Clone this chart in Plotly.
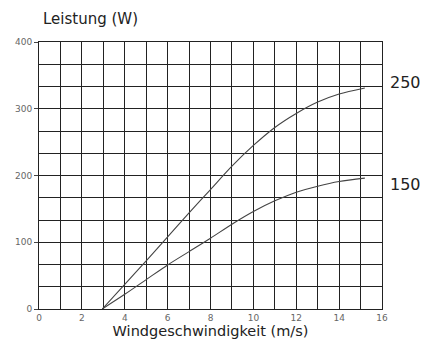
import plotly.graph_objects as go

wind = [2.95, 4, 5, 6, 7, 8, 9, 10, 11, 12, 13, 14, 15.2]
power_250 = [0, 37, 72, 108, 144, 179, 214, 245, 272, 293, 310, 322, 331]
power_150 = [0, 22, 44, 66, 86, 106, 127, 146, 162, 175, 184, 191, 196]
curve_labels = ["250", "150"]
label_y = [340, 186]
x_ticks = [0, 2, 4, 6, 8, 10, 12, 14, 16]
y_ticks = [0, 100, 200, 300, 400]

FONT = "DejaVu Sans"
INK = "#222222"

fig = go.Figure()
for ys in (power_250, power_150):
    fig.add_trace(go.Scatter(x=wind, y=ys, mode="lines",
                             line=dict(color="#444444", width=1.1, shape="spline", smoothing=0.8),
                             showlegend=False, hoverinfo="skip"))

for lab, yv in zip(curve_labels, label_y):
    fig.add_annotation(x=1.0, y=yv / 400, xref="paper", yref="paper", text=lab, showarrow=False,
                       xanchor="left", yanchor="middle", xshift=6,
                       font=dict(family=FONT, size=16, color=INK))

fig.add_annotation(x=0.0, y=1.0, xref="paper", yref="paper", text="Leistung (W)", showarrow=False,
                   xanchor="left", yanchor="bottom", yshift=12, xshift=2,
                   font=dict(family=FONT, size=15, color=INK))

fig.update_layout(
    width=421, height=345,
    margin=dict(l=39, r=39, t=42, b=36),
    paper_bgcolor="white", plot_bgcolor="white",
    font=dict(family=FONT, color=INK),
    xaxis=dict(range=[0, 16], tickvals=x_ticks, ticktext=[str(v) for v in x_ticks],
               showgrid=True, gridcolor="#222222", gridwidth=1,
               minor=dict(dtick=1, showgrid=True, gridcolor="#222222", gridwidth=1),
               showline=True, linecolor="#222222", mirror=True, zeroline=False,
               ticks="", tickfont=dict(size=9, color="#666666"),
               title=dict(text="Windgeschwindigkeit (m/s)", font=dict(size=14.5, color=INK), standoff=0)),
    yaxis=dict(range=[0, 400], tickvals=y_ticks, ticktext=[str(v) for v in y_ticks],
               showgrid=True, gridcolor="#222222", gridwidth=1,
               minor=dict(dtick=100/3, showgrid=True, gridcolor="#222222", gridwidth=1),
               showline=True, linecolor="#222222", mirror=True, zeroline=False,
               ticks="outside", ticklen=4, tickcolor="#444444",
               tickfont=dict(size=9, color="#666666")),
)

fig.write_html("out.html", config={"displayModeBar": False},
               post_script="document.body.style.margin='0';document.body.style.overflow='hidden';")
